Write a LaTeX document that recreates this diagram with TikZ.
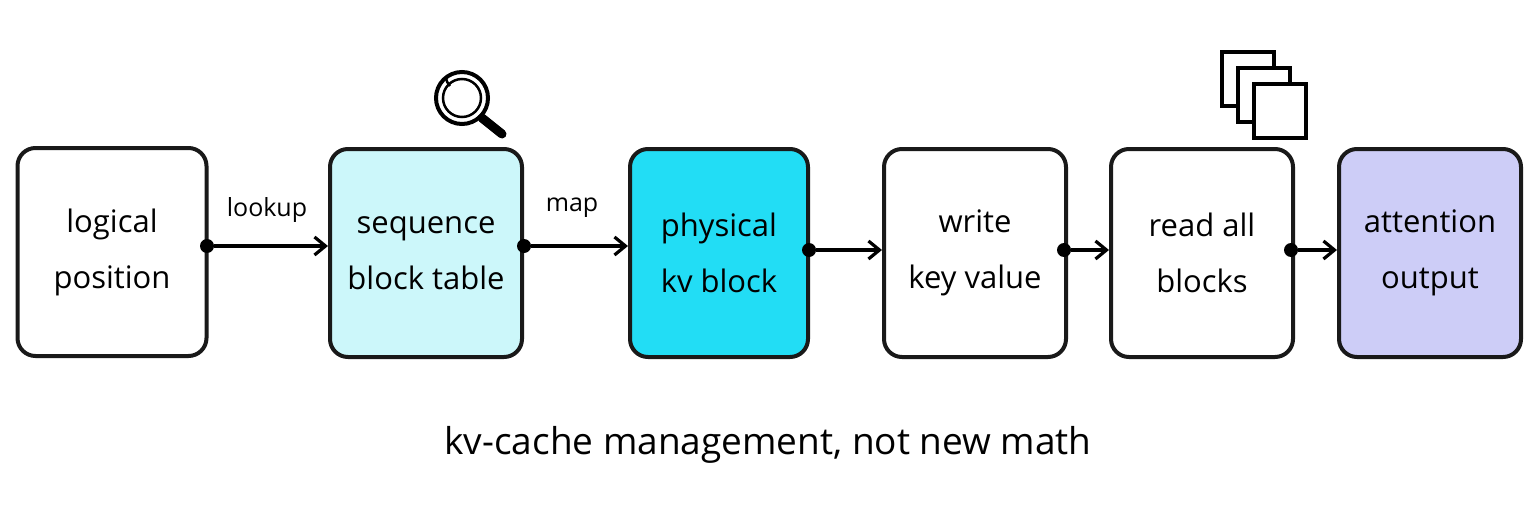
\documentclass[tikz,border=0pt]{standalone}
\usepackage{fontspec}
\setmainfont{Open Sans}
\usetikzlibrary{arrows.meta}
\definecolor{lc}{HTML}{CCF7FA}
\definecolor{cc}{HTML}{22DDF5}
\definecolor{pc}{HTML}{CDCDF7}
\begin{document}
\begin{tikzpicture}[x=1pt,y=-1pt,
 box/.style={draw=black!90,line width=4pt,rounded corners=18pt,minimum width=182pt,minimum height=208pt,align=center,font=\fontsize{31}{56}\selectfont},
 arr/.style={line width=3.2pt,-{Straight Barb[length=11pt,width=18pt]}},
 dot/.style={circle,fill=black,inner sep=0pt,minimum size=14pt},
 lab/.style={font=\fontsize{25}{28}\selectfont}]
\useasboundingbox (0,0) rectangle (1536,524);
\node[box,minimum width=189pt] (a) at (112,252) {logical\\position};
\node[box,fill=lc,minimum width=192pt] (b) at (426,253) {sequence\\block table};
\node[box,fill=cc,minimum width=178pt] (c) at (719,253) {physical\\kv block};
\node[box] (d) at (975,253) {write\\key value};
\node[box] (e) at (1202,253) {read all\\blocks};
\node[box,fill=pc] (f) at (1430,253) {attention\\output};
\node[dot] (da) at (207,246) {};
\node[dot] (db) at (524,246) {};
\node[dot] (dc) at (809,250) {};
\node[dot] (dd) at (1064,250) {};
\node[dot] (de) at (1291,250) {};
\draw[arr] (da) -- (b.west|-da);
\draw[arr] (db) -- (c.west|-db);
\draw[arr] (dc) -- (d.west|-dc);
\draw[arr] (dd) -- (e.west|-dd);
\draw[arr] (de) -- (f.west|-de);
\node[lab] (l1) at (267,210) {lookup};
\node[lab] (l2) at (572,208) {map};
\node[font=\fontsize{37}{40}\selectfont] (cap) at (768,445) {kv-cache management, not new math};
% magnifier
\draw[line width=4pt] (462,98) circle (26pt);
\draw[line width=2.5pt] (462,98) circle (19pt);
\draw[line width=9pt,line cap=round] (482,118) -- (502,134);
\draw[line width=2.5pt] (450,86) arc (225:180:14pt);
% stacked pages
\foreach \o in {0,16,32}
 \draw[line width=3.2pt,fill=white] (1222+\o,52+\o) rectangle (1274+\o,106+\o);
\end{tikzpicture}
\end{document}
